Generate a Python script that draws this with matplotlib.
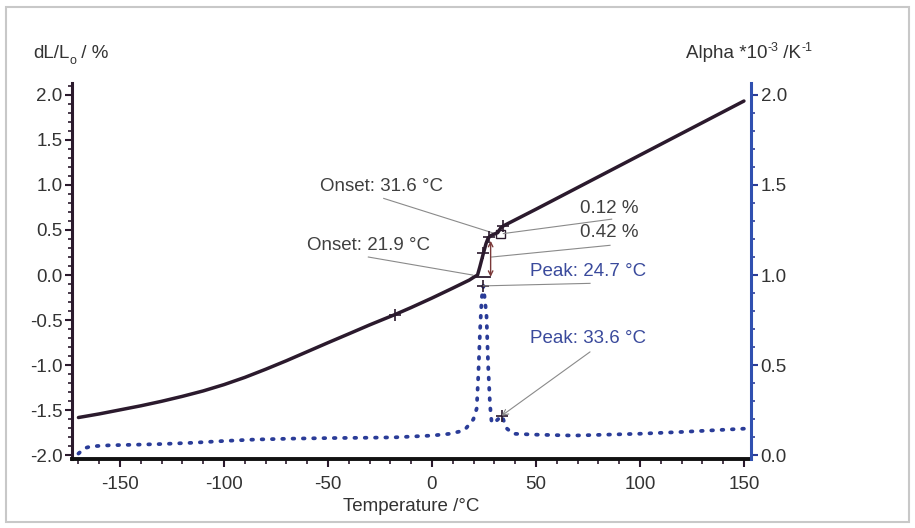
import numpy as np
import matplotlib
matplotlib.use('Agg')
import matplotlib.pyplot as plt
from matplotlib.ticker import MultipleLocator
from matplotlib.patches import Rectangle

plt.rcParams['font.family'] = ['Liberation Sans', 'DejaVu Sans']
plt.rcParams['axes.unicode_minus'] = False

# dL/Lo curve (left axis, %)
temp_dl = [-170, -160, -150, -140, -130, -120, -110, -100, -90, -80, -70, -60, -50,
           -40, -30, -18, -10, 0, 10, 18, 20, 21.9, 23, 24.7, 26, 27, 28.5, 31.6,
           33, 34.3, 50, 70, 90, 110, 130, 150]
dl = [-1.58, -1.54, -1.495, -1.45, -1.40, -1.345, -1.285, -1.215, -1.135, -1.045, -0.95,
      -0.85, -0.75, -0.652, -0.553, -0.44, -0.36, -0.255, -0.145, -0.055, -0.025, 0.0,
      0.09, 0.24, 0.35, 0.41, 0.44, 0.47, 0.52, 0.545, 0.73, 0.97, 1.21, 1.45, 1.69, 1.93]

# alpha curve (right axis, 1e-3/K)
temp_alpha = [-170, -167, -164, -155, -140, -130, -115, -100, -85, -67, -50, -30, -18,
              0, 8.7, 13.5, 16, 19.9, 21.5, 22.3, 23.1, 23.9, 24.7, 26.2, 27.0, 27.9,
              28.7, 30.3, 33.6, 35.9, 39, 50, 68, 100, 120, 150]
alpha = [0.01, 0.04, 0.05, 0.056, 0.06, 0.063, 0.07, 0.08, 0.088, 0.093, 0.096, 0.098,
         0.10, 0.11, 0.12, 0.133, 0.145, 0.20, 0.26, 0.45, 0.69, 0.87, 0.94, 0.78, 0.50,
         0.28, 0.18, 0.185, 0.22, 0.15, 0.12, 0.115, 0.11, 0.12, 0.13, 0.148]

# evaluated points (+ markers)
mark_dl_t = [-17.8, 24.7, 27.5, 34.3]
mark_alpha_t = [24.7, 33.6]

dark = '#2b1a2d'
blue = '#2a3c98'
txt = '#404040'
txt_blue = '#3a4a9c'
lead = '#8a8a8a'

fig = plt.figure(figsize=(9.15, 5.28), dpi=100)
ax = fig.add_axes([72/915, 1 - 459/528, (751 - 72)/915, (459 - 83)/528])
ax2 = ax.twinx()

# outer frame
fig.patches.append(Rectangle((6/915, 6/528), 903/915, 515/528, transform=fig.transFigure,
                             fill=False, edgecolor='#c8c8c8', linewidth=1.5))

ax.plot(temp_dl, dl, color=dark, linewidth=2.5, zorder=3, solid_capstyle='round')
ax.plot(mark_dl_t, np.interp(mark_dl_t, temp_dl, dl), '+', color=dark, markersize=8,
        markeredgewidth=1.2, zorder=4)

ax2.plot(temp_alpha, alpha, color=blue, linewidth=2.7, linestyle=(0, (0.45, 2.3)),
         dash_capstyle='round')
ax2.plot(mark_alpha_t, np.interp(mark_alpha_t, temp_alpha, alpha), '+', color=dark,
         markersize=8, markeredgewidth=1.2)

# limits
ylo, yhi = -2.04, 2.13
ax.set_xlim(-173.1, 153.4)
ax.set_ylim(ylo, yhi)
ax2.set_ylim((ylo + 2) / 2, (yhi + 2) / 2)

# step markers for the transitions
ax.plot([21.0, 27.9], [-0.02, -0.02], color=dark, linewidth=1.3)
ax.annotate('', xy=(28.2, -0.02), xytext=(28.2, 0.38),
            arrowprops=dict(arrowstyle='<->', color='#7a3838', lw=1.0,
                            shrinkA=0, shrinkB=0, mutation_scale=8))
ax.add_patch(Rectangle((30.8, 0.41), 4.3, 0.09, fill=False, edgecolor=dark, linewidth=1.0))

# annotations
ax.text(-53.8, 0.98, 'Onset: 31.6 °C', fontsize=13.5, color=txt, va='center')
ax.plot([-23.2, 30.3], [0.85, 0.46], color=lead, linewidth=0.8)
ax.text(-60.1, 0.33, 'Onset: 21.9 °C', fontsize=13.5, color=txt, va='center')
ax.plot([-30.6, 19.6], [0.20, 0.0], color=lead, linewidth=0.8)
ax.text(71.2, 0.74, '0.12 %', fontsize=13.5, color=txt, va='center')
ax.plot([86.4, 34.3], [0.62, 0.46], color=lead, linewidth=0.8)
ax.text(71.2, 0.47, '0.42 %', fontsize=13.5, color=txt, va='center')
ax.plot([85.6, 28.7], [0.33, 0.20], color=lead, linewidth=0.8)

ax2.text(47.1, 1.02, 'Peak: 24.7 °C', fontsize=13.5, color=txt_blue, va='center')
ax2.plot([76, 24.7], [0.954, 0.94], color=lead, linewidth=0.8)
ax2.text(47.1, 0.65, 'Peak: 33.6 °C', fontsize=13.5, color=txt_blue, va='center')
ax2.annotate('', xy=(33.5, 0.22), xytext=(76, 0.574),
             arrowprops=dict(arrowstyle='->', color=lead, lw=0.8, shrinkA=0, shrinkB=0))

# ticks
ax.set_xticks([-150, -100, -50, 0, 50, 100, 150])
ax.xaxis.set_minor_locator(MultipleLocator(10))
ax.set_yticks(np.arange(-2.0, 2.01, 0.5))
ax.yaxis.set_minor_locator(MultipleLocator(0.1))
ax.yaxis.set_major_formatter(plt.FormatStrFormatter('%.1f'))
ax2.set_yticks(np.arange(0.0, 2.01, 0.5))
ax2.yaxis.set_minor_locator(MultipleLocator(0.1))
ax2.yaxis.set_major_formatter(plt.FormatStrFormatter('%.1f'))

ax.tick_params(axis='x', which='major', length=6, width=1.5, colors=dark,
               labelcolor='#333333', labelsize=13.5, pad=6)
ax.tick_params(axis='x', which='minor', length=3.5, width=1.2, colors=dark)
ax.tick_params(axis='y', which='major', length=5, width=1.5, colors=dark,
               labelcolor='#333333', labelsize=13.5, pad=2)
ax.tick_params(axis='y', which='minor', length=3, width=1.2, colors=dark)
ax2.tick_params(axis='y', which='major', length=5, width=1.5, colors=blue,
                labelcolor='#333333', labelsize=13.5, pad=2)
ax2.tick_params(axis='y', which='minor', length=3, width=1.2, colors=blue)

for a in (ax, ax2):
    a.spines['top'].set_visible(False)
ax.spines['right'].set_visible(False)
ax2.spines['left'].set_visible(False)
ax2.spines['bottom'].set_visible(False)
ax.spines['left'].set_color(dark)
ax.spines['left'].set_linewidth(2.2)
ax.spines['bottom'].set_color('#111111')
ax.spines['bottom'].set_linewidth(2.8)
ax2.spines['right'].set_color('#3050b0')
ax2.spines['right'].set_linewidth(2.2)

# axis titles
ax.set_xlabel('Temperature /°C', fontsize=13.5, color='#333333', labelpad=4)


def chain_text(x_px, y_px, parts):
    # write text pieces one after another; parts = (string, size, raise_px)
    renderer = fig.canvas.get_renderer()
    for s, size, dy in parts:
        t = fig.text(x_px / 915, 1 - (y_px - dy) / 528, s, fontsize=size,
                     color='#333333', va='baseline')
        x_px += t.get_window_extent(renderer).width


chain_text(33, 58, [('dL/L', 13.5, 0), ('o', 9, -6), (' / %', 13.5, 0)])
chain_text(686, 58, [('Alpha *10', 13.5, 0), ('-3', 9, 7), (' /K', 13.5, 0), ('-1', 9, 7)])

plt.savefig('out.png', dpi=100)
plt.close()
